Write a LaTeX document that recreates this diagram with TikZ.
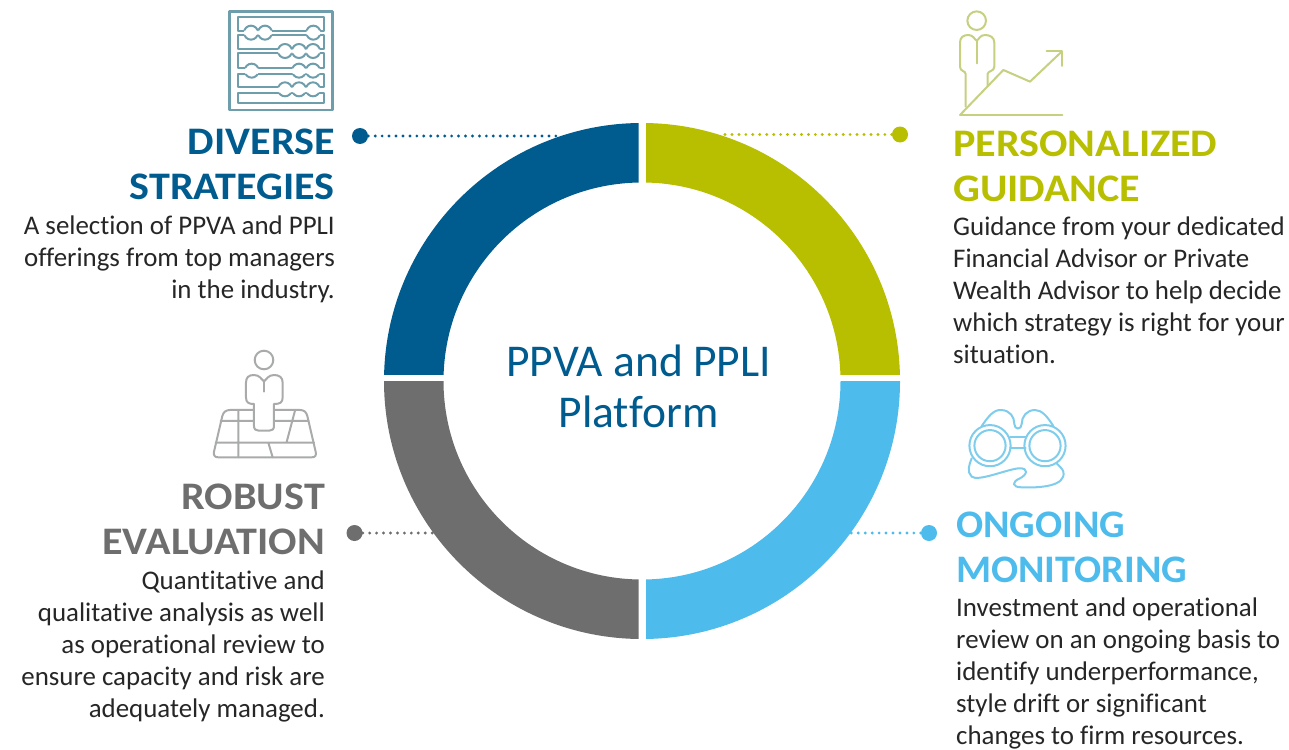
\documentclass[tikz,border=0pt]{standalone}
\usepackage{fontspec}
\setmainfont[Ligatures={TeX,NoCommon}]{Carlito}
\newfontfamily\headfont[FakeStretch=1.08,Ligatures={TeX,NoCommon}]{Carlito}
\newfontfamily\headfontn[FakeStretch=1.03,Ligatures={TeX,NoCommon}]{Carlito}
\definecolor{cblue}{HTML}{005B8E}
\definecolor{cgreen}{HTML}{B7BF00}
\definecolor{csky}{HTML}{4DBBEB}
\definecolor{cgray}{HTML}{6D6E6D}
\definecolor{iblue}{HTML}{6E9DAC}
\definecolor{igreen}{HTML}{C6D07F}
\definecolor{igray}{HTML}{A9ABAB}
\definecolor{isky}{HTML}{7FCDEC}
\tikzset{
  dotline/.style={line width=3.2pt,line cap=round,dash pattern=on 0pt off 6.95pt},
  dotnode/.style={circle,inner sep=0pt,minimum size=16pt,fill=#1},
  headL/.style={anchor=north east,align=right,inner sep=0pt,font=\headfont\fontsize{39}{45}\selectfont\bfseries,text=#1},
  headR/.style={anchor=north west,align=left,inner sep=0pt,font=\headfont\fontsize{39}{45}\selectfont\bfseries,text=#1},
  headRn/.style={anchor=north west,align=left,inner sep=0pt,font=\headfontn\fontsize{39}{45}\selectfont\bfseries,text=#1},
  bodyL/.style={anchor=north east,align=right,inner sep=0pt,font=\fontsize{26.9}{32}\selectfont,text=black!85},
  bodyR/.style={anchor=north west,align=left,inner sep=0pt,font=\fontsize{26.9}{32}\selectfont,text=black!85},
  icon/.style={x=0.3333pt,y=-0.3333pt,line width=2pt,line join=round,line cap=round},
}
\begin{document}
\begin{tikzpicture}[x=1pt,y=-1pt]
\useasboundingbox (0,0) rectangle (1289,749);
% dots and connectors
\node[dotnode=cblue] (d1) at (360,136) {};
\node[dotnode=cgreen] (d2) at (900,134.5) {};
\node[dotnode=cgray] (d3) at (354.5,533) {};
\node[dotnode=csky] (d4) at (929,533) {};
\coordinate (r1) at (560,136);
\coordinate (r2) at (720,134.5);
\coordinate (r3) at (436,533);
\coordinate (r4) at (851,533);
\draw[dotline,cblue] (d1) -- (r1);
\draw[dotline,cgreen] (d2) -- (r2);
\draw[dotline,cgray] (d3) -- (r3);
\draw[dotline,csky] (d4) -- (r4);
% ring
\begin{scope}\clip (380,110) rectangle (638.5,374);
\fill[cblue,even odd rule] (642,381) circle[radius=258pt] (642,381) circle[radius=198.5pt];\end{scope}
\begin{scope}\clip (646,110) rectangle (905,374);
\fill[cgreen,even odd rule] (642,381) circle[radius=258pt] (642,381) circle[radius=198.5pt];\end{scope}
\begin{scope}\clip (380,381) rectangle (638.5,645);
\fill[cgray,even odd rule] (642,381) circle[radius=258pt] (642,381) circle[radius=198.5pt];\end{scope}
\begin{scope}\clip (646,381) rectangle (905,645);
\fill[csky,even odd rule] (642,381) circle[radius=258pt] (642,381) circle[radius=198.5pt];\end{scope}
% centre
\node[align=center,inner sep=0pt,text=cblue,font=\fontsize{45.5}{51}\selectfont] (c) at (638.5,386.5) {PPVA and PPLI\\Platform};
% text
\node[headL=cblue] (h1) at (335,129) {DIVERSE\\STRATEGIES};
\node[bodyL] (b1) at (335,216) {A selection of PPVA and PPLI\\offerings from top managers\\in the industry.};
\node[headR=cgreen] (h2) at (953,131) {PERSONALIZED\\GUIDANCE};
\node[bodyR] (b2) at (953,217) {Guidance from your dedicated\\Financial Advisor or Private\\Wealth Advisor to help decide\\which strategy is right for your\\situation.};
\node[headL=cgray] (h3) at (325,484) {ROBUST\\EVALUATION};
\node[bodyL] (b3) at (325,571) {Quantitative and\\qualitative analysis as well\\as operational review to\\ensure capacity and risk are\\adequately managed.};
\node[headRn=csky] (h4) at (956,512) {ONGOING\\MONITORING};
\node[bodyR] (b4) at (956,597.5) {Investment and operational\\review on an ongoing basis to\\identify underperformance,\\style drift or significant\\changes to firm resources.};
% abacus icon
\begin{scope}[shift={(215,0)},icon,draw=iblue]
\draw[line width=2.6pt] (43,35) rectangle (352,330);
\foreach \t/\b in {50/92,105/148,160/205,222/262,278/308} \draw (68,\t) rectangle (328,\b);
\foreach \cy/\u/\v/\xs in {98/92/105/{108,150,295},153/148/160/{210,252,294},212/205/222/{110,252,294},268/262/278/{210,252,294}}{
  \foreach \cx in \xs {
    \fill[white] (\cx,\cy) circle[radius=7pt];
    \begin{scope}
      \clip (\cx-25,\cy-30) rectangle (\cx+25,\u) (\cx-25,\v) rectangle (\cx+25,\cy+30);
      \draw (\cx,\cy) circle[radius=7pt];
    \end{scope}
  }
}
\end{scope}
% person + chart icon
\begin{scope}[shift={(945,0)},icon,draw=igreen]
\draw (95,62) circle[radius=9.3pt];
\draw (62,320) -- (62,222) .. controls (62,212) and (45,215) .. (45,200) -- (45,128)
  .. controls (45,112) and (55,105) .. (70,105) .. controls (85,105) and (88,118) .. (95,122)
  .. controls (102,118) and (105,105) .. (120,105) .. controls (135,105) and (148,112) .. (148,128)
  -- (148,200) .. controls (148,215) and (128,212) .. (128,222) -- (128,258);
\draw (95,122) -- (95,190);
\draw (45,345) -- (175,210) -- (255,245) -- (350,155);
\draw (305,153) -- (350,153) -- (350,198);
\draw (45,345) -- (352,345);
\end{scope}
% map person icon
\begin{scope}[shift={(200,340)},icon,draw=igray]
\draw (192,60) circle[radius=9.3pt];
\draw (162,192) -- (162,258) .. controls (162,268) and (168,272) .. (176,272) -- (208,272)
  .. controls (216,272) and (222,268) .. (222,258) -- (222,192) .. controls (240,192) and (248,188) .. (248,172) -- (248,128)
  .. controls (248,112) and (238,105) .. (222,105) .. controls (205,105) and (200,118) .. (192,124)
  .. controls (184,118) and (179,105) .. (162,105) .. controls (146,105) and (138,112) .. (138,128) -- (138,172)
  .. controls (138,188) and (146,192) .. (162,192);
\draw (192,124) -- (192,155);
\draw (160,210) -- (90,210) .. controls (78,210) and (70,216) .. (67,228) -- (42,335)
  .. controls (40,346) and (44,352) .. (55,352) -- (335,352) .. controls (346,352) and (350,346) .. (347,335)
  -- (322,228) .. controls (319,216) and (312,210) .. (300,210) -- (224,210);
\draw (115,210) -- (115,352) (62,243) -- (160,243) (224,243) -- (326,243) (47,308) -- (342,308)
  (285,212) -- (260,306) (205,308) -- (218,352);
\end{scope}
% binoculars icon
\begin{scope}[shift={(955,400)},icon,draw=isky]
\draw (105,137) circle[radius=20.6pt] (105,137) circle[radius=15.6pt];
\draw (270,137) circle[radius=20.6pt] (270,137) circle[radius=15.6pt];
\draw (165,112) -- (212,112) (165,145) -- (212,145);
\draw (80,78) .. controls (100,50) and (115,28) .. (140,30) .. controls (165,32) and (178,50) .. (178,72)
  .. controls (178,90) and (200,90) .. (200,72) .. controls (200,50) and (215,30) .. (240,30)
  .. controls (262,30) and (278,52) .. (295,78);
\draw (50,175) .. controls (42,195) and (35,215) .. (50,230) .. controls (70,245) and (150,210) .. (190,205)
  .. controls (225,203) and (215,225) .. (195,235) .. controls (170,245) and (170,262) .. (200,262)
  .. controls (250,264) and (335,260) .. (325,215) .. controls (322,205) and (312,198) .. (305,190);
\end{scope}
\end{tikzpicture}
\end{document}
